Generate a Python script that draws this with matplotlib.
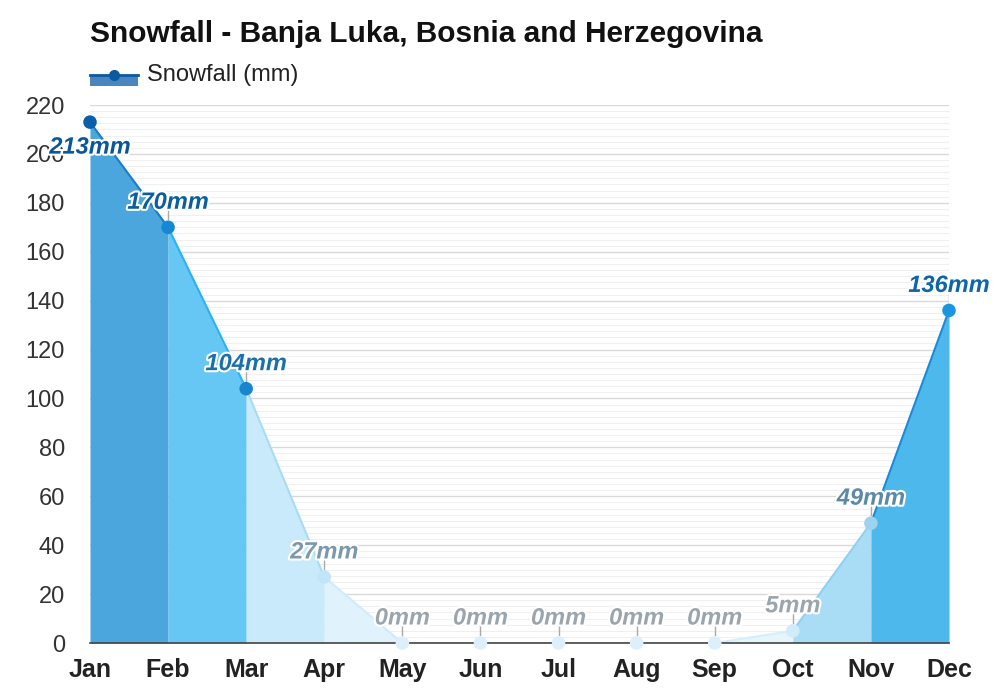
import matplotlib
matplotlib.use("Agg")
import matplotlib.pyplot as plt
import matplotlib.patheffects as pe
from matplotlib.lines import Line2D
from matplotlib.patches import Rectangle
import numpy as np

months = ['Jan', 'Feb', 'Mar', 'Apr', 'May', 'Jun', 'Jul', 'Aug', 'Sep', 'Oct', 'Nov', 'Dec']
snowfall = [213, 170, 104, 27, 0, 0, 0, 0, 0, 5, 49, 136]
labels = ['%dmm' % v for v in snowfall]

# style per segment (month i -> i+1) and per point
seg_fill = ['#4aa6dc', '#66c6f4', '#c8eafb', '#e0f3fc', '#eef8fd', '#eef8fd',
            '#eef8fd', '#eef8fd', '#e6f5fc', '#a9ddf6', '#4db8ec']
seg_line = ['#1a7cc8', '#2ab2ee', '#a8dcf6', '#cfecfa', '#e2f3fc', '#e2f3fc',
            '#e2f3fc', '#e2f3fc', '#d6eefa', '#8dd0f2', '#1a8ad8']
pt_color = ['#0b5ea8', '#1588d4', '#1a85cc', '#bfe5f7', '#dceffa', '#dceffa',
            '#dceffa', '#dceffa', '#dceffa', '#d2ebf8', '#9dd3ef', '#1a95df']
lbl_color = ['#0a569a', '#0a5e9e', '#1a70a8', '#7c98ab', '#9aa5ad', '#9aa5ad',
             '#9aa5ad', '#9aa5ad', '#9aa5ad', '#9aa5ad', '#5b8aa8', '#0c66a8']

plt.rcParams['font.family'] = ['Liberation Sans', 'DejaVu Sans']

fig = plt.figure(figsize=(10, 7), dpi=100)
ax = fig.add_axes([0.09, 0.0814, 0.859, 0.7686])

x = np.arange(len(months))
y = np.array(snowfall)

for i in range(len(months) - 1):
    xs = x[i:i + 2]
    ys = y[i:i + 2]
    ax.fill_between(xs, 0, ys, color=seg_fill[i], linewidth=0, zorder=2)
    ax.plot(xs, ys, color=seg_line[i], lw=1.5, zorder=3, solid_capstyle='round')

ax.scatter(x, y, s=95, c=pt_color, zorder=5, linewidths=0, clip_on=False)

for i, (xv, yv) in enumerate(zip(x, y)):
    if i == 0:
        off = -25
    else:
        off = 25
        ax.plot([xv, xv], [yv + 3.2, yv + 8.0], color='#aaaaaa', lw=1, zorder=4)
    t = ax.annotate(labels[i], xy=(xv, yv), xytext=(0, off * 0.72), textcoords='offset points',
                    ha='center', va='center', fontsize=17, fontweight='bold', fontstyle='italic',
                    color=lbl_color[i], zorder=6, annotation_clip=False)
    t.set_path_effects([pe.withStroke(linewidth=3, foreground='white')])

ax.set_xlim(0, 11)
ax.set_ylim(0, 220)
ax.set_yticks(np.arange(0, 221, 20))
ax.set_yticks(np.arange(0, 220, 2.5), minor=True)
ax.grid(True, which='major', axis='y', color='#d9d9d9', lw=1, zorder=0)
ax.grid(True, which='minor', axis='y', color='#f0f0f0', lw=0.8, zorder=0)
ax.set_xticks(x)
ax.set_xticklabels(months, fontsize=18, fontweight='bold', color='#222222')
ax.tick_params(axis='x', length=0, pad=11)
ax.tick_params(axis='y', which='both', length=0, labelsize=17, labelcolor='#333333', pad=18)
for s in ['top', 'right', 'left']:
    ax.spines[s].set_visible(False)
ax.spines['bottom'].set_color('#444444')
ax.spines['bottom'].set_linewidth(1.2)
ax.spines['bottom'].set_zorder(4)
ax.set_axisbelow(True)

fig.text(0.09, 0.952, 'Snowfall - Banja Luka, Bosnia and Herzegovina', fontsize=21.5,
         fontweight='bold', color='#111111', va='center')

# legend
fig.add_artist(Rectangle((0.09, 0.877), 0.048, 0.016, transform=fig.transFigure,
                         facecolor='#4a85c0', edgecolor='none'))
fig.add_artist(Line2D([0.09, 0.138], [0.893, 0.893], transform=fig.transFigure,
                      color='#0b5aa0', lw=2))
fig.add_artist(Line2D([0.114], [0.893], transform=fig.transFigure, marker='o',
                      markersize=7, color='#0b5aa0'))
fig.text(0.147, 0.893, 'Snowfall (mm)', fontsize=17, color='#222222', va='center')

fig.savefig('out.png', dpi=100)
